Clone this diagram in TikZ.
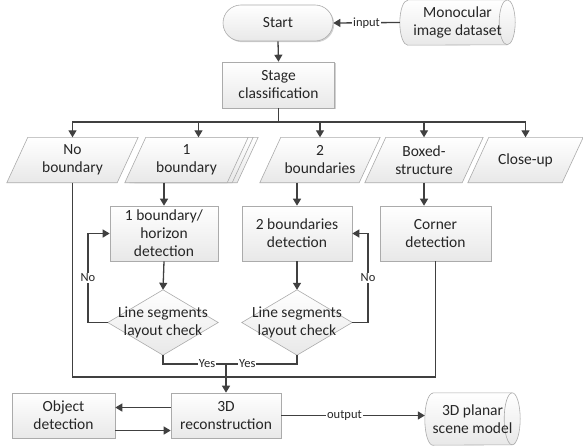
\documentclass[tikz,border=0pt]{standalone}
\usepackage{fontspec}
\setmainfont{Carlito}
\usetikzlibrary{arrows.meta,shadows,backgrounds,calc}
\definecolor{linec}{HTML}{404040}
\definecolor{edgec}{HTML}{ABABAB}
\definecolor{txtc}{HTML}{262626}
\tikzset{
  base/.style={align=center, text=txtc, font=\fontsize{15.5pt}{18pt}\selectfont, inner sep=1pt},
  fillsh/.style={top color=white, bottom color=black!9, draw=edgec, line width=0.6pt},
  shad/.style={drop shadow={shadow xshift=1.2pt, shadow yshift=-1.2pt, opacity=0.18, fill=black}},
  procbox/.style={base, rectangle, fillsh, shad},
  termbox/.style={base, rectangle, rounded corners=18pt, fillsh, shad},
  txtonly/.style={base, rectangle},
  conn/.style={draw=linec, line width=1.3pt, -{Triangle[length=7pt,width=8pt]}},
  wire/.style={draw=linec, line width=1.3pt},
  lbl/.style={fill=white, inner sep=1pt, text=txtc, font=\fontsize{12.5pt}{14pt}\selectfont},
}
\newcommand\parashape[2]{\path[fillsh] (#1.south west) -- ([xshift=-#2]#1.south east) -- (#1.north east) -- ([xshift=#2]#1.north west) -- cycle;}
\newcommand\diashape[1]{\path[fillsh] (#1.west) -- (#1.north) -- (#1.east) -- (#1.south) -- cycle;}
\newcommand\cylshape[3]{%
  \path[fillsh] ([xshift=#2]#1.north west) -- ([xshift=-#2]#1.north east)
    arc[start angle=90,end angle=-90,x radius=#2,y radius=#3]
    -- ([xshift=#2]#1.south west)
    arc[start angle=270,end angle=90,x radius=#2,y radius=#3] -- cycle;
  \draw[edgec, line width=0.6pt] ([xshift=-#2]#1.north east)
    arc[start angle=90,end angle=270,x radius=#2,y radius=#3];}
\begin{document}
\begin{tikzpicture}[x=1pt,y=-1pt]
\useasboundingbox (0,0) rectangle (583,447);

% nodes
\node[termbox, minimum width=110pt, minimum height=36pt] (start) at (278,23) {Start};
\node[txtonly, minimum width=115pt, minimum height=45pt] (mono) at (457.5,22.5) {Monocular\\image dataset};
\node[procbox, minimum width=112pt, minimum height=46pt] (stage) at (278.5,85) {Stage\\classification};

\node[txtonly, minimum width=131pt, minimum height=45pt] (noB) at (72.5,160) {No\\boundary};
\node[txtonly, minimum width=123pt, minimum height=45pt] (oneBb) at (196.5,160) {};
\node[txtonly, minimum width=123pt, minimum height=45pt] (oneBa) at (191.5,160) {};
\node[txtonly, minimum width=123pt, minimum height=45pt] (oneB) at (186.5,160) {1\\boundary};
\node[txtonly, minimum width=120pt, minimum height=45pt] (twoB) at (320,160) {2\\boundaries};
\node[txtonly, minimum width=118pt, minimum height=45pt] (boxed) at (424,160) {Boxed-\\structure};
\node[txtonly, minimum width=115pt, minimum height=45pt] (close) at (525.5,160) {Close-up};

\node[procbox, minimum width=108pt, minimum height=55pt] (box1) at (164,233.5) {1 boundary/\\horizon\\detection};
\node[procbox, minimum width=110pt, minimum height=55pt] (box2) at (297,233.5) {2 boundaries\\detection};
\node[procbox, minimum width=111pt, minimum height=55pt] (corner) at (435.5,233.5) {Corner\\detection};

\node[txtonly, minimum width=110pt, minimum height=65pt] (d1) at (163,322.5) {Line segments\\layout check};
\node[txtonly, minimum width=110pt, minimum height=65pt] (d2) at (297,322.5) {Line segments\\layout check};

\node[procbox, minimum width=103pt, minimum height=45pt] (objdet) at (63.5,415.5) {Object\\detection};
\node[procbox, minimum width=110pt, minimum height=45pt] (recon) at (226,415.5) {3D\\reconstruction};
\node[txtonly, minimum width=95pt, minimum height=52pt] (plan) at (472.5,419) {3D planar\\scene model};

% drawn shapes behind texts
\begin{scope}[on background layer]
  \cylshape{mono}{8pt}{22.5pt}
  \cylshape{plan}{8pt}{26pt}
  \parashape{noB}{21pt}
  \parashape{oneBb}{21pt}
  \parashape{oneBa}{21pt}
  \parashape{oneB}{21pt}
  \parashape{twoB}{21pt}
  \parashape{boxed}{21pt}
  \parashape{close}{21pt}
  \diashape{d1}
  \diashape{d2}
\end{scope}

% connectors
\draw[conn] (mono.west) -- node[lbl]{input} (start.east);
\draw[conn] (start.south) -- (stage.north);
\coordinate (bus) at (stage.south |- 0,122);
\draw[wire] (stage.south) -- (bus);
\draw[conn] (bus) -| (noB.north);
\draw[conn] (bus) -| ([xshift=12pt]oneB.north);
\draw[conn] (bus) -| (twoB.north);
\draw[conn] (bus) -| (boxed.north);
\draw[conn] (bus) -| (close.north);

\draw[conn] (box1.north |- oneB.south) -- (box1.north);
\draw[conn] (box2.north |- twoB.south) -- (box2.north);
\draw[conn] (boxed.south) -- (boxed.south |- corner.north);
\draw[conn] (box1.south) -- (d1.north);
\draw[conn] (box2.south) -- (d2.north);

\draw[conn] (d1.west) -- (d1.west -| 88,0) -- node[lbl]{No} (box1.west -| 88,0) -- (box1.west);
\draw[conn] (d2.east) -- (d2.east -| 368,0) -- node[lbl]{No} (box2.east -| 368,0) -- (box2.east);

\coordinate (yesj) at (recon.north |- 0,364);
\draw[wire] (d1.south) |- node[lbl,pos=0.85]{Yes} (yesj);
\draw[wire] (d2.south) |- node[lbl,pos=0.85]{Yes} (yesj);
\coordinate (merge) at (recon.north |- 0,377);
\draw[wire] (noB.south) |- (merge);
\draw[wire] (corner.south) |- (merge);
\draw[conn] (yesj) -- (recon.north);

\draw[conn] ([yshift=8pt]recon.west) -- ([yshift=8pt]objdet.east);
\draw[conn] ([yshift=-15pt]objdet.east) -- ([yshift=-15pt]recon.west);
\draw[conn] (recon.east) -- node[lbl,pos=0.44]{output} (recon.east -| plan.west);
\end{tikzpicture}
\end{document}
